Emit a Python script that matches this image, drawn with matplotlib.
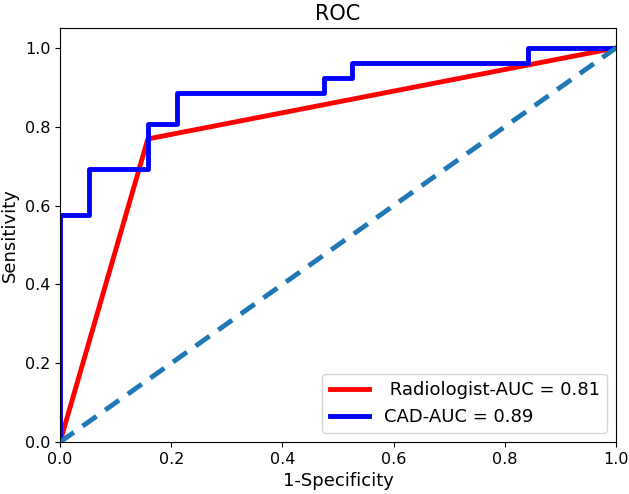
import matplotlib
matplotlib.use("Agg")
import matplotlib.pyplot as plt

# CAD ROC points (step curve)
cad_fpr = [0.0, 0.0, 0.053, 0.053, 0.158, 0.158, 0.211, 0.211, 0.474, 0.474,
           0.526, 0.526, 0.842, 0.842, 1.0]
cad_tpr = [0.0, 0.577, 0.577, 0.692, 0.692, 0.808, 0.808, 0.885, 0.885, 0.923,
           0.923, 0.962, 0.962, 1.0, 1.0]

# Radiologist ROC points
rad_fpr = [0.0, 0.158, 1.0]
rad_tpr = [0.0, 0.769, 1.0]

chance = [0.0, 1.0]

fig = plt.figure(figsize=(6.29, 4.94), dpi=100)
ax = fig.add_axes([0.0954, 0.105, 0.884, 0.838])

ax.plot(rad_fpr, rad_tpr, color="red", lw=3.5, label=" Radiologist-AUC = 0.81")
ax.plot(cad_fpr, cad_tpr, color="blue", lw=3.5, label="CAD-AUC = 0.89")
ax.plot(chance, chance, color="#1f77b4", lw=3.5, ls="--", dashes=(3.5, 2.2))

ax.set_xlim(0, 1.0)
ax.set_ylim(0, 1.05)
ax.set_xticks([0.0, 0.2, 0.4, 0.6, 0.8, 1.0])
ax.set_yticks([0.0, 0.2, 0.4, 0.6, 0.8, 1.0])
ax.tick_params(labelsize=11.5)
ax.set_xlabel("1-Specificity", fontsize=13)
ax.set_ylabel("Sensitivity", fontsize=13)
ax.set_title("ROC", fontsize=15)
ax.legend(loc="lower right", fontsize=13, handlelength=2.2)

fig.savefig("out.png", dpi=100)
